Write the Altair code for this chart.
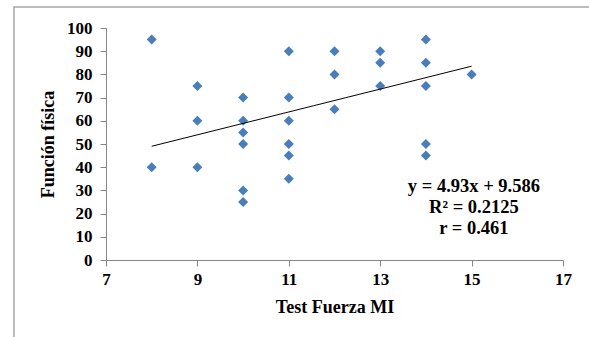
import altair as alt
import pandas as pd

# Data
test_fuerza = [8, 8,
               9, 9, 9,
               10, 10, 10, 10, 10, 10,
               11, 11, 11, 11, 11, 11,
               12, 12, 12,
               13, 13, 13,
               14, 14, 14, 14, 14,
               15]
funcion_fisica = [95, 40,
                  75, 60, 40,
                  70, 60, 55, 50, 30, 25,
                  90, 70, 60, 50, 45, 35,
                  90, 80, 65,
                  90, 85, 75,
                  95, 85, 75, 50, 45,
                  80]

trend_x = [8, 15]
slope = 4.93
intercept = 9.586
annotation = ["y = 4.93x + 9.586", "R² = 0.2125", "r = 0.461"]

x_ticks = [7, 9, 11, 13, 15, 17]
y_ticks = [0, 10, 20, 30, 40, 50, 60, 70, 80, 90, 100]

pts = pd.DataFrame({"x": test_fuerza, "y": funcion_fisica})
trend = pd.DataFrame({"x": trend_x})

FONT = "Liberation Serif"
AXIS_COLOR = "#868686"

x_scale = alt.Scale(domain=[7, 17], nice=False, zero=False)
y_scale = alt.Scale(domain=[0, 100], nice=False)

x_axis = alt.Axis(values=x_ticks, title="Test Fuerza MI",
                  labelPadding=5, titlePadding=11)
y_axis = alt.Axis(values=y_ticks, title="Función física",
                  labelPadding=8, titlePadding=9)

frame = alt.Chart(pd.DataFrame({"a": [0]})).mark_rect(
    fill=None, stroke="#a6a6a6", strokeWidth=1.5
).encode(
    x=alt.value(-92), x2=alt.value(520), y=alt.value(-21), y2=alt.value(330)
)

points = alt.Chart(pts).mark_point(
    shape="diamond", filled=True, size=100, color="#4A7EBB", opacity=1
).encode(
    x=alt.X("x:Q", scale=x_scale, axis=x_axis),
    y=alt.Y("y:Q", scale=y_scale, axis=y_axis),
)

line = alt.Chart(trend).transform_calculate(
    y=f"{slope} * datum.x + {intercept}"
).mark_line(color="black", strokeWidth=1).encode(
    x=alt.X("x:Q", scale=x_scale, axis=x_axis),
    y=alt.Y("y:Q", scale=y_scale, axis=y_axis),
)

text = alt.Chart(pd.DataFrame({"t": ["\n".join(annotation)]})).mark_text(
    font=FONT, fontSize=18.5, fontWeight="bold", color="black",
    align="center", baseline="middle", lineBreak="\n", lineHeight=21
).encode(
    x=alt.X(datum=15.05, scale=x_scale, axis=x_axis),
    y=alt.Y(datum=31.8, scale=y_scale, axis=y_axis),
    text="t:N",
)

chart = alt.layer(frame, points, line, text).properties(
    width=457, height=232,
    autosize=alt.AutoSizeParams(type="none"),
    padding={"left": 106, "top": 28, "right": 26, "bottom": 77},
    background="white",
).configure_view(stroke=None).configure_axis(
    grid=False, labelFont=FONT, labelFontSize=17, labelFontWeight="bold",
    labelColor="black", titleFont=FONT, titleFontSize=18,
    titleFontWeight="bold", titleColor="black",
    domainColor=AXIS_COLOR, tickColor=AXIS_COLOR, tickSize=6,
    labelOverlap=False, labelFlush=False
)

chart.save("out.html", embed_options={"renderer": "svg", "actions": False})
